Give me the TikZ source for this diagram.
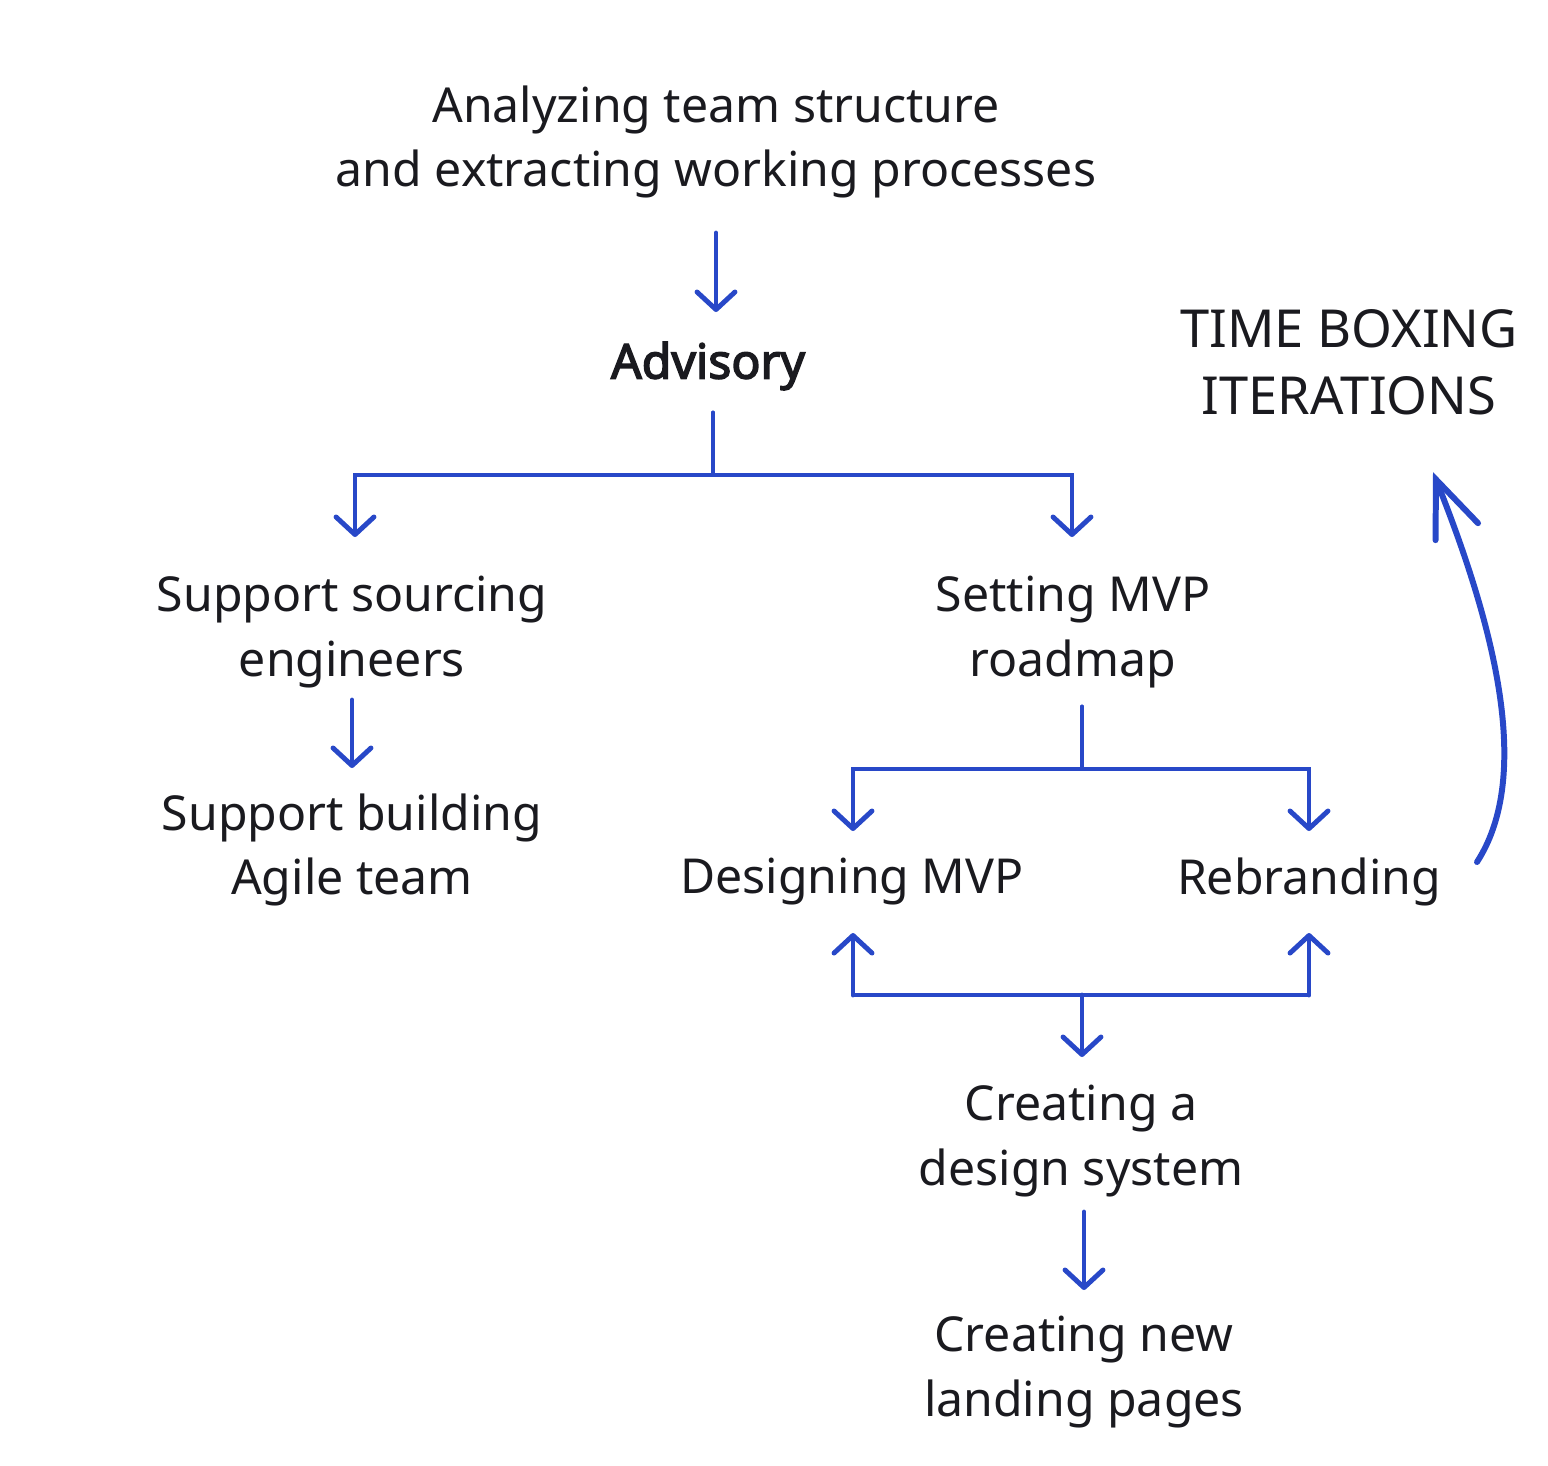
\documentclass[tikz,border=0pt]{standalone}
\usepackage{fontspec}
\setmainfont{Noto Sans}
\newfontfamily\heavyfont{Noto Sans}[FakeBold=3]
\usetikzlibrary{arrows.meta}
\definecolor{flowblue}{RGB}{40,72,200}
\definecolor{ink}{RGB}{26,26,31}

\begin{document}
\begin{tikzpicture}[x=0.01cm,y=-0.01cm,
    txt/.style={align=center,text=ink,inner sep=0pt,font=\fontsize{13.7}{18.4}\selectfont},
    ln/.style={draw=flowblue,line width=1.4pt},
    arr/.style={ln,line cap=round,-{Straight Barb[length=5pt,width=10.8pt,line cap=round,line join=round]}}]
    \useasboundingbox (0,0) rectangle (1548,1465);

    \node[txt] (top) at (716,142) {Analyzing team structure\\and extracting working processes};
    \node[txt,font=\fontsize{13.7}{18.4}\heavyfont] (adv) at (708,366) {Advisory};
    \node[txt] (src) at (352,632) {Support sourcing\\engineers};
    \node[txt] (agile) at (352,850) {Support building\\Agile team};
    \node[txt] (mvp) at (1073,632) {Setting MVP\\roadmap};
    \node[txt] (des) at (852,882) {Designing MVP};
    \node[txt] (reb) at (1309,882) {Rebranding};
    \node[txt] (dsys) at (1081,1141) {Creating a\\design system};
    \node[txt] (land) at (1084,1372) {Creating new\\landing pages};
    \node[txt,font=\fontsize{14.9}{19}\selectfont] (time) at (1349,362) {TIME BOXING\\ITERATIONS};

    % arrow ends
    \coordinate (topout) at (716,233);
    \coordinate (advin) at (716,312);
    \coordinate (advout) at (713,413);
    \coordinate (srcin) at (355,537);
    \coordinate (mvpin) at (1072,537);
    \coordinate (srcout) at (352,700);
    \coordinate (agilein) at (352,768);
    \coordinate (mvpout) at (1082,707);
    \coordinate (desin) at (853,831);
    \coordinate (rebin) at (1309,831);
    \coordinate (desout) at (853,933);
    \coordinate (rebout) at (1309,933);
    \coordinate (dsysin) at (1082,1057);
    \coordinate (dsysout) at (1084,1212);
    \coordinate (landin) at (1084,1290);
    \coordinate (loopout) at (1477,862);
    \coordinate (timein) at (1433,472);

    \draw[arr] (topout) -- (advin);

    \draw[arr] (advout) -- ++(0,62) -| (srcin);
    \draw[arr] (advout) -- ++(0,62) -| (mvpin);

    \draw[arr] (srcout) -- (agilein);

    \draw[arr] (mvpout) -- ++(0,62) -| (desin);
    \draw[arr] (mvpout) -- ++(0,62) -| (rebin);

    \draw[ln] (desout |- 0,995) -- (rebout |- 0,995);
    \draw[arr] (desout |- 0,995) -- (desout);
    \draw[arr] (rebout |- 0,995) -- (rebout);
    \draw[arr] (dsysin |- 0,995) -- (dsysin);

    \draw[arr] (dsysout) -- (landin);

    \draw[arr,line width=1.7pt,-{Straight Barb[length=16pt,width=13pt,line cap=round]}]
        (loopout) .. controls (1530,780) and (1500,640) .. (timein);
\end{tikzpicture}
\end{document}
